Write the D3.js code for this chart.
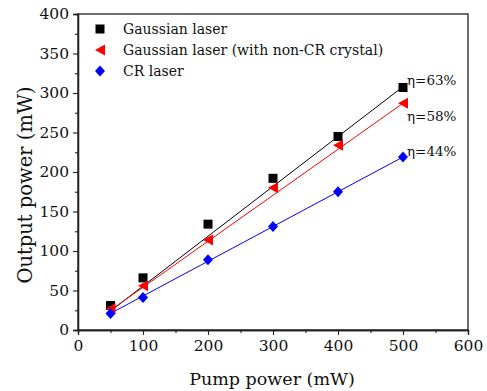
<!DOCTYPE html>
<html><head><meta charset="utf-8">
<script src="https://cdn.jsdelivr.net/npm/d3@7"></script>
<style>body{margin:0;background:#fff}svg{display:block}text{font-family:"DejaVu Serif",serif;fill:#111}</style>
</head><body><svg id="c" width="487" height="391"></svg>
<script>
const pump = [50, 100, 200, 300, 400, 500];
const gaussian = [31, 66, 134, 192, 245, 307];
const gaussianNonCR = [27, 56, 114, 180, 234, 287];
const crLaser = [21, 41, 89, 131, 175, 219];
const fitX = [50, 500];
const fitGaussian = [24, 308];
const fitGaussianNonCR = [25, 287];
const fitCR = [21, 219];
const seriesNames = ["Gaussian laser", "Gaussian laser (with non-CR crystal)", "CR laser"];
const efficiencyLabels = ["η=63%", "η=58%", "η=44%"];
const xTicks = [0, 100, 200, 300, 400, 500, 600];
const yTicks = [0, 50, 100, 150, 200, 250, 300, 350, 400];

const svg = d3.select("#c");
const L = 78, R = 468, T = 14, B = 330;
const x = d3.scaleLinear().domain([0, 600]).range([L, R]);
const y = d3.scaleLinear().domain([0, 400]).range([B, T]);

svg.append("rect").attr("x", L).attr("y", T).attr("width", R - L).attr("height", B - T)
  .attr("fill", "none").attr("stroke", "#222").attr("stroke-width", 1.3);

const fs = 15.5;
const xAxis = svg.append("g").attr("transform", `translate(0,${B})`)
  .call(d3.axisBottom(x).tickValues(xTicks).tickSize(5).tickPadding(5));
const xMinor = svg.append("g").attr("transform", `translate(0,${B})`)
  .call(d3.axisBottom(x).tickValues(d3.range(50, 600, 100)).tickSize(3).tickFormat(""));
const yAxis = svg.append("g").attr("transform", `translate(${L},0)`)
  .call(d3.axisLeft(y).tickValues(yTicks).tickSize(5).tickPadding(4));
const yMinor = svg.append("g").attr("transform", `translate(${L},0)`)
  .call(d3.axisLeft(y).tickValues(d3.range(25, 400, 50)).tickSize(3).tickFormat(""));
[xAxis, xMinor, yAxis, yMinor].forEach(g => {
  g.select(".domain").attr("stroke", "#222").attr("stroke-width", 1.3);
  g.selectAll(".tick line").attr("stroke", "#222").attr("stroke-width", 1.1);
  g.selectAll("text").style("font-family", '"DejaVu Serif",serif').style("font-size", fs + "px").attr("fill", "#111");
});

svg.append("text").attr("x", 272).attr("y", 385).attr("text-anchor", "middle")
  .style("font-size", "17.5px").text("Pump power (mW)");
svg.append("text").attr("transform", `translate(32,185) rotate(-90)`).attr("text-anchor", "middle")
  .style("font-size", "19.5px").text("Output power (mW)");

const series = [
  {vals: gaussian, fit: fitGaussian, color: "#000", shape: "square"},
  {vals: gaussianNonCR, fit: fitGaussianNonCR, color: "#f00", shape: "tri"},
  {vals: crLaser, fit: fitCR, color: "#00f", shape: "diamond"}
];
function marker(g, shape, color) {
  if (shape === "square") g.append("rect").attr("x", -4.5).attr("y", -4.5).attr("width", 9).attr("height", 9).attr("fill", color);
  else if (shape === "tri") g.append("path").attr("d", "M-5,0L5,-5.5L5,5.5Z").attr("fill", color);
  else g.append("path").attr("d", "M0,-5.5L5,0L0,5.5L-5,0Z").attr("fill", color);
}
const line = d3.line().x(d => x(d[0])).y(d => y(d[1]));
series.forEach(s => {
  svg.append("path").attr("d", line(fitX.map((v, i) => [v, s.fit[i]])))
    .attr("fill", "none").attr("stroke", s.color).attr("stroke-width", 1);
});
series.forEach(s => {
  pump.forEach((p, i) => {
    marker(svg.append("g").attr("transform", `translate(${x(p)},${y(s.vals[i])})`), s.shape, s.color);
  });
});

series.forEach((s, i) => {
  const ly = 29 + i * 21;
  marker(svg.append("g").attr("transform", `translate(100,${ly})`), s.shape, s.color);
  svg.append("text").attr("x", 123).attr("y", ly + 5).style("font-size", "14px").text(seriesNames[i]);
});

const effPos = [[407, 85], [407, 121], [407, 156]];
efficiencyLabels.forEach((t, i) => {
  svg.append("text").attr("x", effPos[i][0]).attr("y", effPos[i][1]).style("font-size", "13.5px").text(t);
});
</script></body></html>
